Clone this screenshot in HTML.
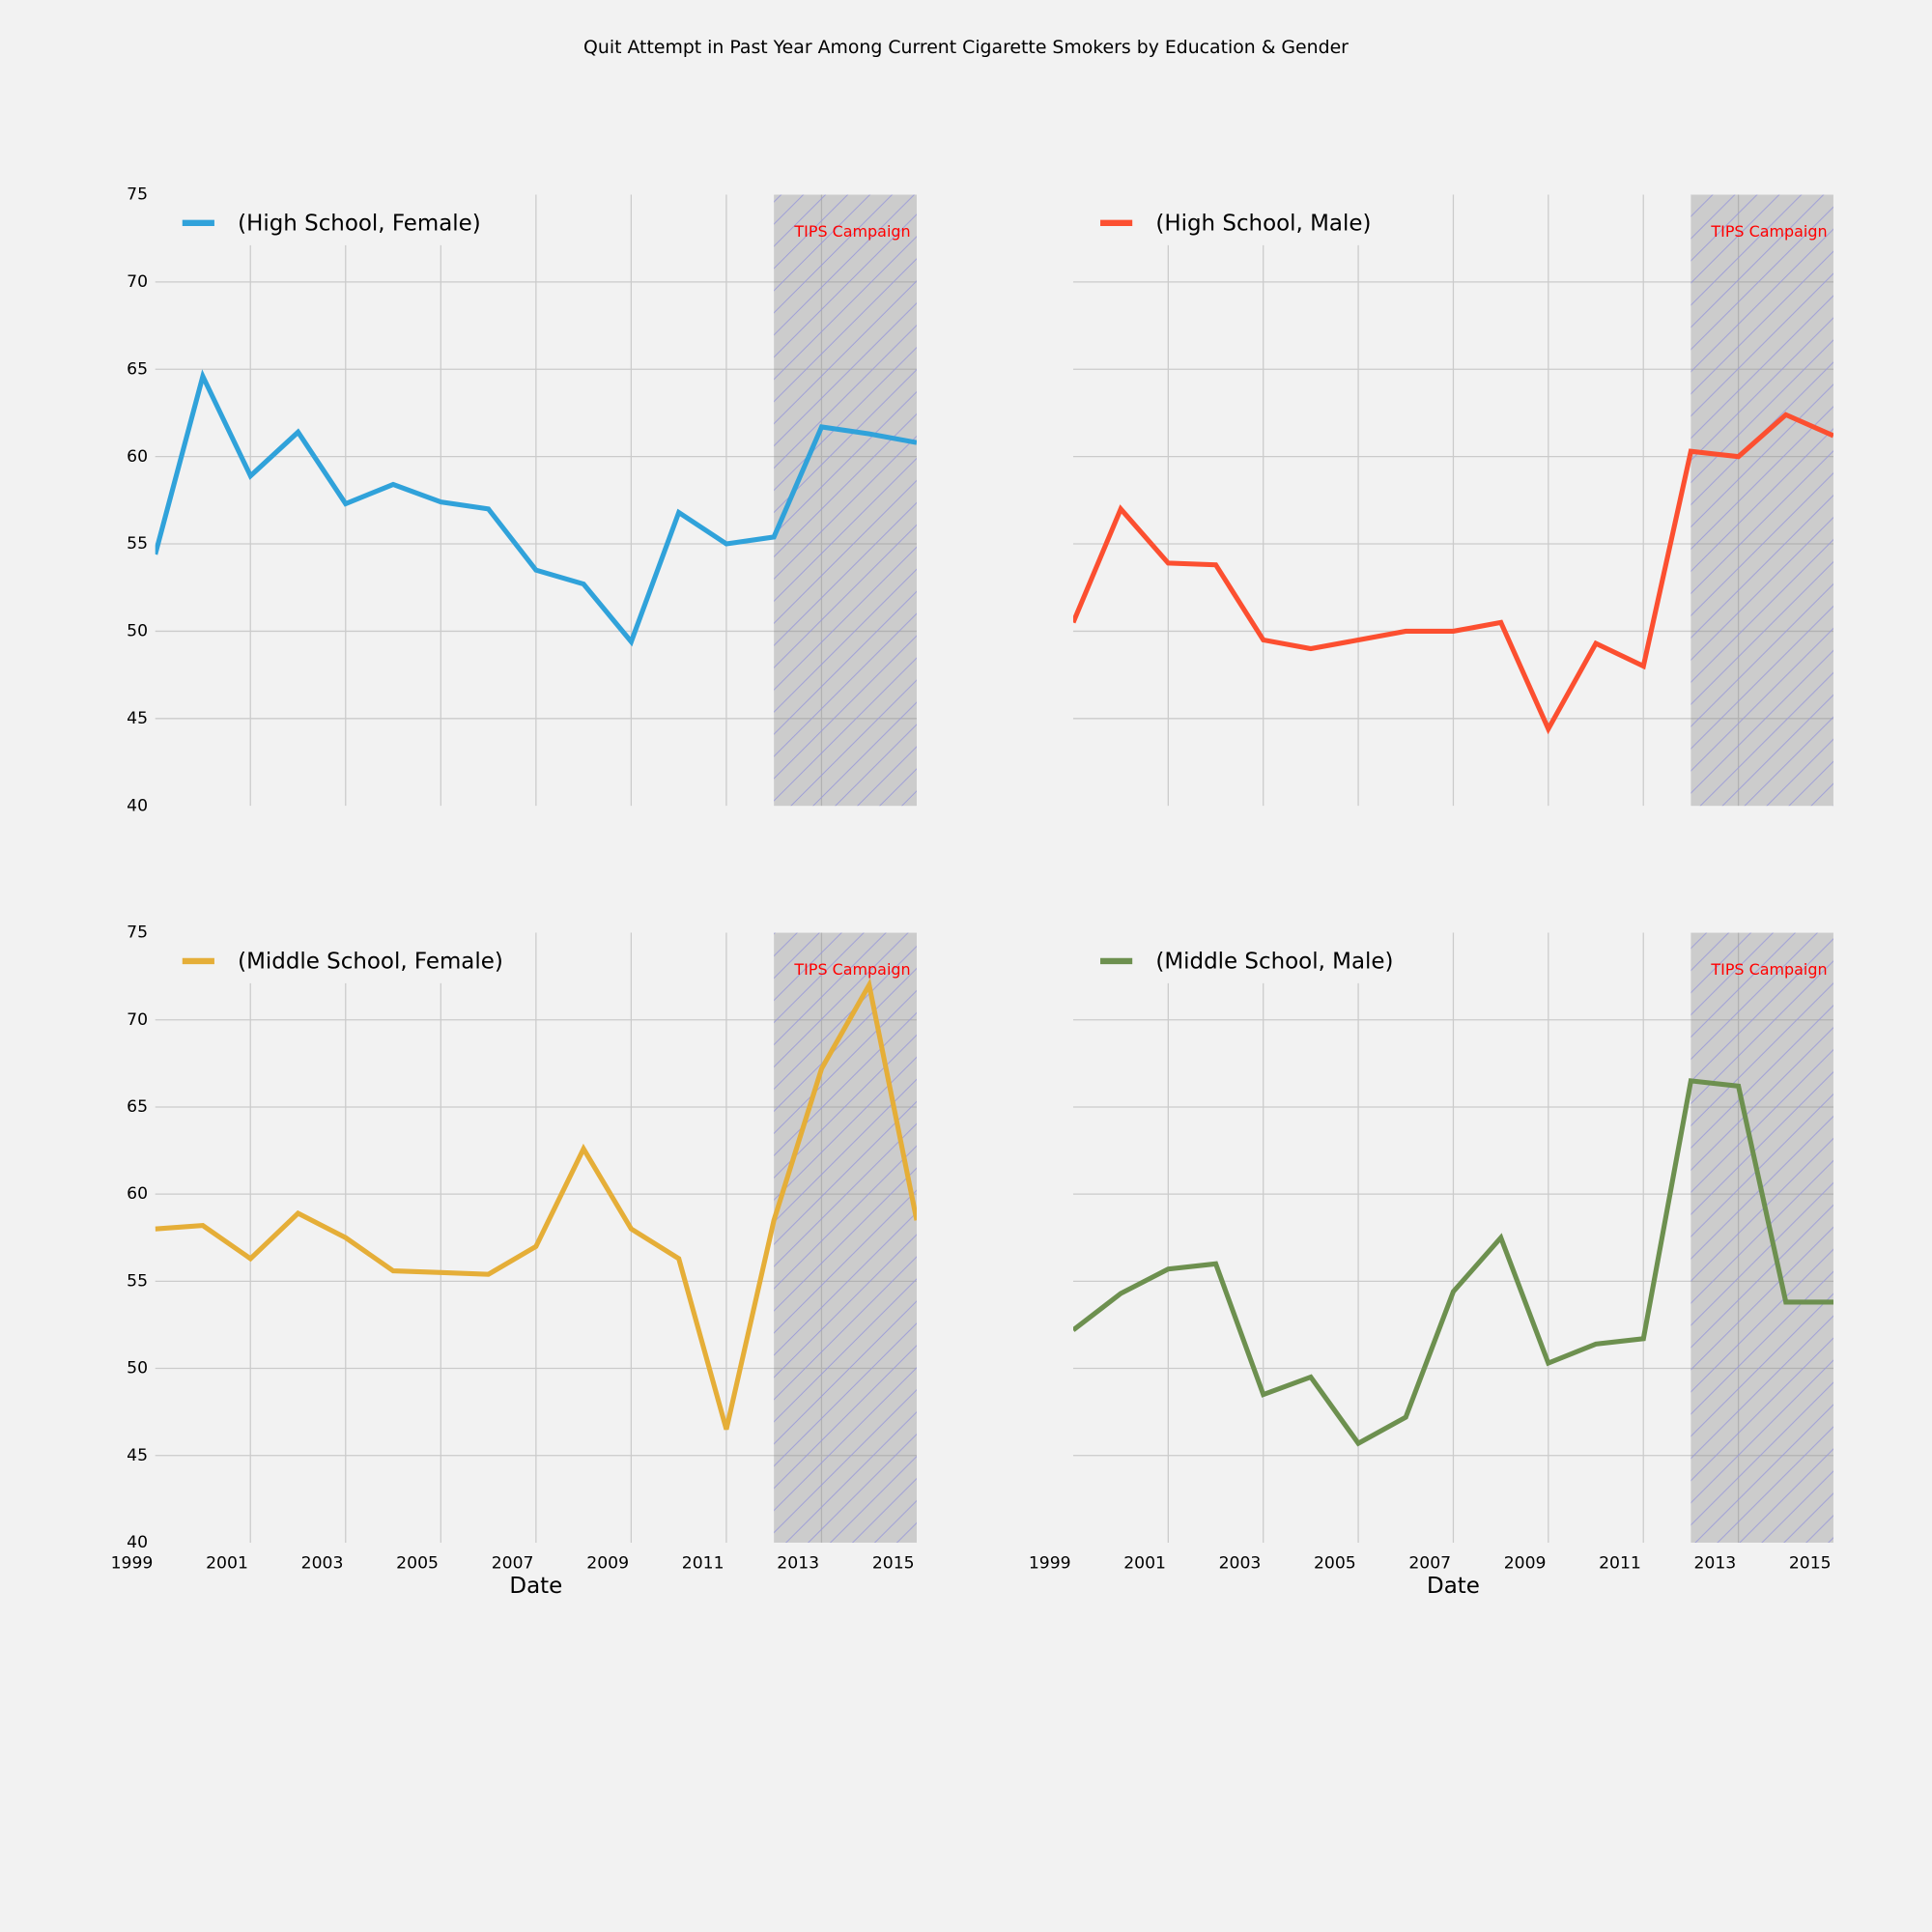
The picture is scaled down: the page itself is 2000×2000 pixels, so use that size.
<!DOCTYPE html>
<html><head><meta charset="utf-8">
<style>
html,body{margin:0;padding:0;background:#f2f2f2;}
svg{display:block;font-family:"DejaVu Sans","Liberation Sans",sans-serif;}
</style></head>
<body>
<svg id="fig" width="2000" height="2000" viewBox="0 0 1568 1568" xmlns="http://www.w3.org/2000/svg">
<defs>
<pattern id="hatch" patternUnits="userSpaceOnUse" width="18" height="18">
<path d="M-2,20 L20,-2 M-2,2 L2,-2 M16,20 L20,16" stroke="#9a9ad8" stroke-width="0.7" fill="none"/>
</pattern>
</defs>
<rect x="0" y="0" width="1568" height="1568" fill="#f2f2f2"/>
<text x="784" y="43" text-anchor="middle" font-size="14.8" fill="#000">Quit Attempt in Past Year Among Current Cigarette Smokers by Education &amp; Gender</text>
</svg>
<script>
const years = [1999,2000,2001,2002,2003,2004,2005,2006,2007,2008,2009,2010,2011,2012,2013,2014,2015];
const hsFemale = [54.4,64.6,58.9,61.4,57.3,58.4,57.4,57.0,53.5,52.7,49.4,56.8,55.0,55.4,61.7,61.3,60.8];
const hsMale = [50.5,57.0,53.9,53.8,49.5,49.0,49.5,50.0,50.0,50.5,44.4,49.3,48.0,60.3,60.0,62.4,61.2];
const msFemale = [58.0,58.2,56.3,58.9,57.5,55.6,55.5,55.4,57.0,62.6,58.0,56.3,46.5,58.5,67.2,72.0,58.5];
const msMale = [52.2,54.3,55.7,56.0,48.5,49.5,45.7,47.2,54.4,57.5,50.3,51.4,51.7,66.5,66.2,53.8,53.8];
const yTicks = [40,45,50,55,60,65,70,75];
const xTickYears = [1999,2001,2003,2005,2007,2009,2011,2013,2015];
const tipsStart = 2012, tipsEnd = 2015;

const NS = "http://www.w3.org/2000/svg";
const svg = document.getElementById('fig');
function mk(tag, attrs, parent){
  const e = document.createElementNS(NS, tag);
  for (const k in attrs) e.setAttribute(k, attrs[k]);
  (parent||svg).appendChild(e);
  return e;
}
const panels = [
  {x0:126,x1:744,y0:158,y1:654,data:hsFemale,color:'#30a2da',label:'(High School, Female)',name:'hs-female',xlabels:false,legW:300},
  {x0:871,x1:1488,y0:158,y1:654,data:hsMale,color:'#fc4f30',label:'(High School, Male)',name:'hs-male',xlabels:false,legW:300},
  {x0:126,x1:744,y0:757,y1:1252,data:msFemale,color:'#e5ae38',label:'(Middle School, Female)',name:'ms-female',xlabels:true,legW:300},
  {x0:871,x1:1488,y0:757,y1:1252,data:msMale,color:'#6d904f',label:'(Middle School, Male)',name:'ms-male',xlabels:true,legW:300}
];
panels.forEach((p,pi)=>{
  const g = mk('g',{});
  
  
  const xs = yr => p.x0 + (yr-years[0])/(years[years.length-1]-years[0])*(p.x1-p.x0);
  const ys = v => p.y1 - (v-40)/(75-40)*(p.y1-p.y0);
  const legBottom = p.y0+41, legRight = p.x0+p.legW;
  yTicks.forEach(t=>{
    if (t>40 && t<75){
      const l = mk('line',{x1:p.x0,x2:p.x1,y1:ys(t),y2:ys(t),stroke:'#cbcbcb','stroke-width':1},g);
      
      
    }
    if (pi%2===0){
      const tx = mk('text',{x:p.x0-6,y:ys(t)+4,'text-anchor':'end','font-size':13.5,fill:'#000'},g);
      tx.textContent = t;
      
      
    }
  });
  xTickYears.forEach(yr=>{
    const gx = xs(yr);
    if (yr > years[0] && yr < years[years.length-1]){
      const top = gx < legRight ? legBottom : p.y0;
      const l = mk('line',{x1:gx,x2:gx,y1:top,y2:p.y1,stroke:'#cbcbcb','stroke-width':1},g);
      
      
    }
    if (p.xlabels){
      const tx = mk('text',{x:xs(yr)-19,y:p.y1+21,'text-anchor':'middle','font-size':13.5,fill:'#000'},g);
      tx.textContent = yr;
      
      
    }
  });
  const sx0 = xs(tipsStart), sx1 = xs(tipsEnd);
  const sh = mk('rect',{x:sx0,y:p.y0,width:sx1-sx0,height:p.y1-p.y0,fill:'#808080','fill-opacity':0.33},g);
  
  
  mk('rect',{x:sx0,y:p.y0,width:sx1-sx0,height:p.y1-p.y0,fill:'url(#hatch)'},g);
  const tt = mk('text',{x:sx1-5,y:p.y0+34,'text-anchor':'end','font-size':12.5,fill:'#ff0000'},g);
  tt.textContent = 'TIPS Campaign';
  
  
  const pts = years.map((yr,i)=>xs(yr).toFixed(1)+','+ys(p.data[i]).toFixed(1)).join(' ');
  const cp = mk('clipPath',{id:'clip'+pi},g);
  mk('rect',{x:p.x0,y:p.y0,width:p.x1-p.x0,height:p.y1-p.y0},cp);
  const pl = mk('polyline',{points:pts,fill:'none',stroke:p.color,'stroke-width':4,'stroke-linejoin':'miter','clip-path':'url(#clip'+pi+')'},g);
  
  
  const lg = mk('g',{},g);
  
  
  mk('line',{x1:p.x0+22,x2:p.x0+48,y1:p.y0+23,y2:p.y0+23,stroke:p.color,'stroke-width':5},lg);
  const lt = mk('text',{x:p.x0+67,y:p.y0+29,'font-size':18,fill:'#000'},lg);
  lt.textContent = p.label;
  if (p.xlabels){
    const xl = mk('text',{x:(p.x0+p.x1)/2,y:p.y1+41,'text-anchor':'middle','font-size':18,fill:'#000'},g);
    xl.textContent = 'Date';
    
    
  }
});
</script>
</body></html>
